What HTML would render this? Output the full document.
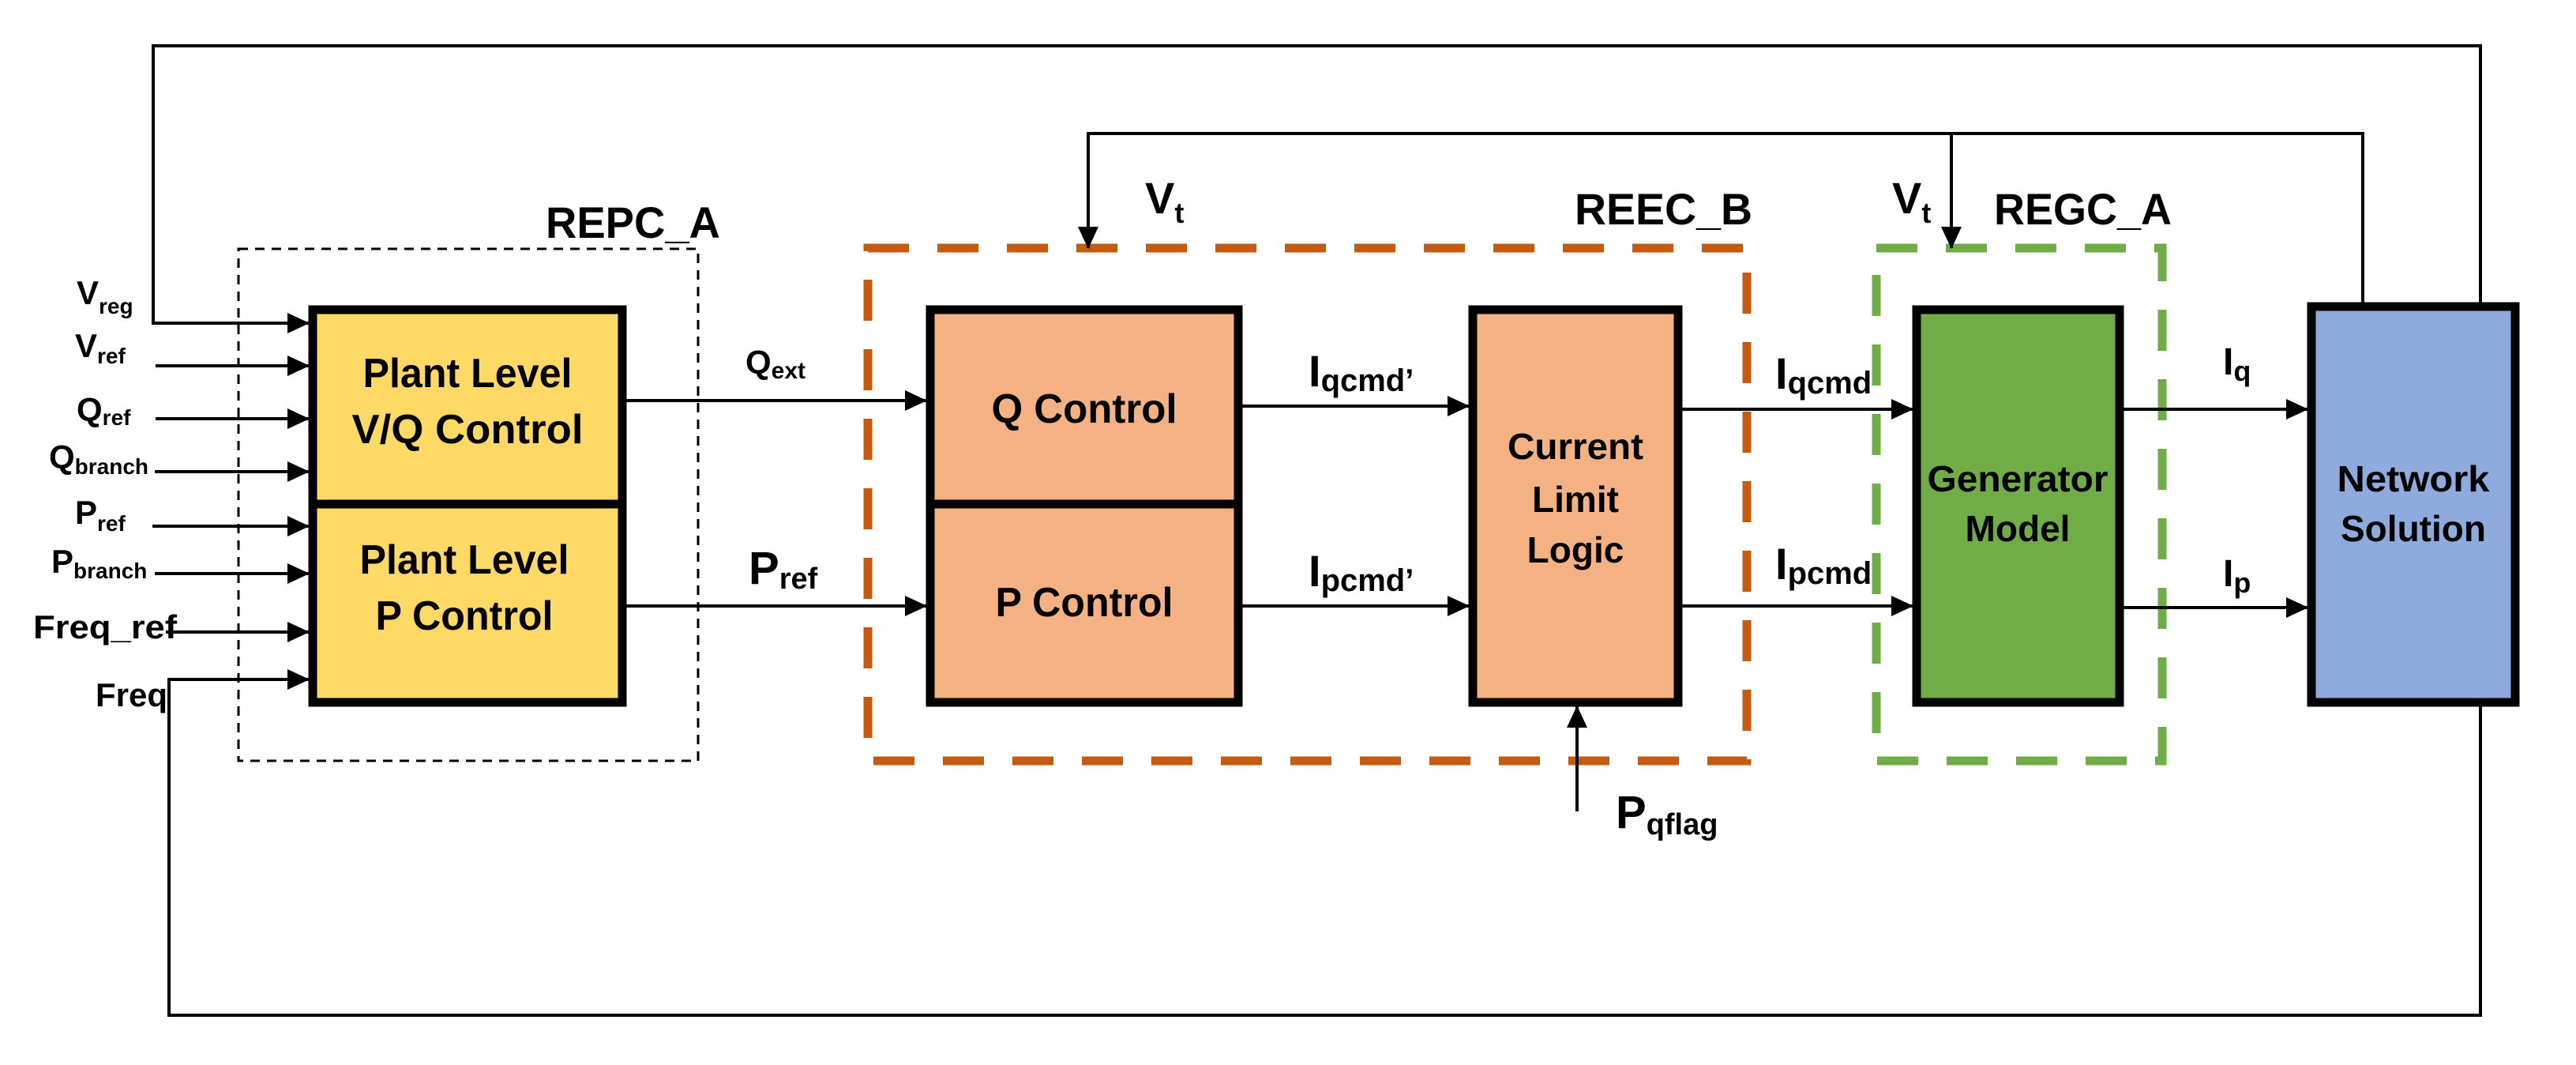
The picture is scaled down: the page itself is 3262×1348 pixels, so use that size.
<!DOCTYPE html>
<html><head><meta charset="utf-8"><style>
html,body{margin:0;padding:0;background:#fff;}
svg{display:block;}
text{font-family:"Liberation Sans",sans-serif;font-weight:bold;fill:#000;}
</style></head><body>
<svg width="3262" height="1348" viewBox="0 0 3262 1348" xmlns="http://www.w3.org/2000/svg">
<defs>
<marker id="a" markerWidth="28" markerHeight="26" refX="27" refY="13" orient="auto" markerUnits="userSpaceOnUse">
<path d="M0,0 L28,13 L0,26 Z" fill="#000"/></marker>
</defs>
<rect width="3262" height="1348" fill="#fff"/>

<!-- dashed group boxes -->
<rect x="302" y="315" width="582" height="648" fill="none" stroke="#000" stroke-width="3" stroke-dasharray="12,9"/>
<rect x="1099" y="314" width="1113" height="649" fill="none" stroke="#C55A11" stroke-width="11" stroke-dasharray="52,36"/>
<rect x="2376" y="314" width="362" height="649" fill="none" stroke="#70AD47" stroke-width="11" stroke-dasharray="52,36"/>

<!-- outer feedback loop -->
<polyline points="3141,383 3141,58 194,58 194,409 391,409" fill="none" stroke="#000" stroke-width="4" marker-end="url(#a)"/>
<polyline points="3141,894 3141,1285 214,1285 214,860 391,860" fill="none" stroke="#000" stroke-width="4" marker-end="url(#a)"/>

<!-- Vt feedback -->
<polyline points="2992,383 2992,169 1378,169 1378,314" fill="none" stroke="#000" stroke-width="4" marker-end="url(#a)"/>
<line x1="2471" y1="169" x2="2471" y2="314" stroke="#000" stroke-width="4" marker-end="url(#a)"/>

<!-- input lines -->
<g stroke="#000" stroke-width="4" marker-end="url(#a)">
<line x1="197" y1="463" x2="391" y2="463"/>
<line x1="197" y1="530" x2="391" y2="530"/>
<line x1="196" y1="597" x2="391" y2="597"/>
<line x1="193" y1="666" x2="391" y2="666"/>
<line x1="196" y1="726" x2="391" y2="726"/>
<line x1="210" y1="800" x2="391" y2="800"/>
<line x1="793" y1="507" x2="1173" y2="507"/>
<line x1="793" y1="767" x2="1173" y2="767"/>
<line x1="1573" y1="514" x2="1860" y2="514"/>
<line x1="1573" y1="767" x2="1860" y2="767"/>
<line x1="2130" y1="518" x2="2422" y2="518"/>
<line x1="2130" y1="767" x2="2422" y2="767"/>
<line x1="2689" y1="518" x2="2922" y2="518"/>
<line x1="2689" y1="769" x2="2922" y2="769"/>
<line x1="1997" y1="1027" x2="1997" y2="894"/>
</g>

<!-- blocks -->
<g stroke="#000" stroke-width="11">
<rect x="396" y="392" width="392" height="497" fill="#FFD966"/>
<line x1="396" y1="638" x2="788" y2="638"/>
<rect x="1178" y="392" width="390" height="497" fill="#F4B183"/>
<line x1="1178" y1="638" x2="1568" y2="638"/>
<rect x="1865" y="392" width="260" height="497" fill="#F4B183"/>
<rect x="2427" y="392" width="257" height="497" fill="#70AD47"/>
<rect x="2927" y="388" width="258" height="501" fill="#8FAADC"/>
</g>

<!-- block text -->
<g text-anchor="middle" font-size="52">
<text x="592" y="490" textLength="265" lengthAdjust="spacingAndGlyphs">Plant Level</text>
<text x="592" y="561" textLength="293" lengthAdjust="spacingAndGlyphs">V/Q Control</text>
<text x="588" y="726" textLength="265" lengthAdjust="spacingAndGlyphs">Plant Level</text>
<text x="588" y="797" textLength="225" lengthAdjust="spacingAndGlyphs">P Control</text>
<text x="1373" y="535" textLength="235" lengthAdjust="spacingAndGlyphs">Q Control</text>
<text x="1373" y="780" textLength="225" lengthAdjust="spacingAndGlyphs">P Control</text>
</g>
<g text-anchor="middle" font-size="46">
<text x="1995" y="581" textLength="172" lengthAdjust="spacingAndGlyphs">Current</text>
<text x="1995" y="648">Limit</text>
<text x="1995" y="712">Logic</text>
<text x="2555" y="622" textLength="229" lengthAdjust="spacingAndGlyphs">Generator</text>
<text x="2555" y="685">Model</text>
<text x="3056" y="622" textLength="193" lengthAdjust="spacingAndGlyphs">Network</text>
<text x="3056" y="685" textLength="184" lengthAdjust="spacingAndGlyphs">Solution</text>
</g>

<!-- group titles -->
<g font-size="56">
<text x="691" y="301" textLength="221" lengthAdjust="spacingAndGlyphs">REPC_A</text>
<text x="1994" y="284" textLength="225" lengthAdjust="spacingAndGlyphs">REEC_B</text>
<text x="2525" y="284" textLength="225" lengthAdjust="spacingAndGlyphs">REGC_A</text>
<text x="1450" y="270">V<tspan font-size="36" dy="12">t</tspan></text>
<text x="2396" y="270">V<tspan font-size="36" dy="12">t</tspan></text>
</g>

<!-- input labels -->
<g font-size="42" font-weight="normal">
<text x="97" y="385">V<tspan font-size="28" dy="12">reg</tspan></text>
<text x="95" y="452">V<tspan font-size="28" dy="8">ref</tspan></text>
<text x="97" y="533">Q<tspan font-size="28" dy="5">ref</tspan></text>
<text x="62" y="593">Q<tspan font-size="28" dy="7">branch</tspan></text>
<text x="95" y="663">P<tspan font-size="28" dy="9">ref</tspan></text>
<text x="65" y="725">P<tspan font-size="28" dy="7">branch</tspan></text>
<text x="42" y="808" textLength="182" lengthAdjust="spacingAndGlyphs">Freq_ref</text>
<text x="121" y="894">Freq</text>
</g>

<!-- signal labels -->
<text x="944" y="473" font-size="42">Q<tspan font-size="30" dy="6">ext</tspan></text>
<text x="948" y="739" font-size="58">P<tspan font-size="38" dy="6">ref</tspan></text>
<text x="1657" y="489" font-size="56">I<tspan font-size="40" dy="6">qcmd’</tspan></text>
<text x="1657" y="742" font-size="56">I<tspan font-size="40" dy="6">pcmd’</tspan></text>
<text x="2248" y="492" font-size="56">I<tspan font-size="40" dy="6">qcmd</tspan></text>
<text x="2248" y="733" font-size="56">I<tspan font-size="40" dy="6">pcmd</tspan></text>
<text x="2815" y="474" font-size="48">I<tspan font-size="36" dy="8">q</tspan></text>
<text x="2815" y="742" font-size="48">I<tspan font-size="36" dy="8">p</tspan></text>
<text x="2046" y="1048" font-size="58">P<tspan font-size="38" dy="8">qflag</tspan></text>
</svg>
</body></html>
